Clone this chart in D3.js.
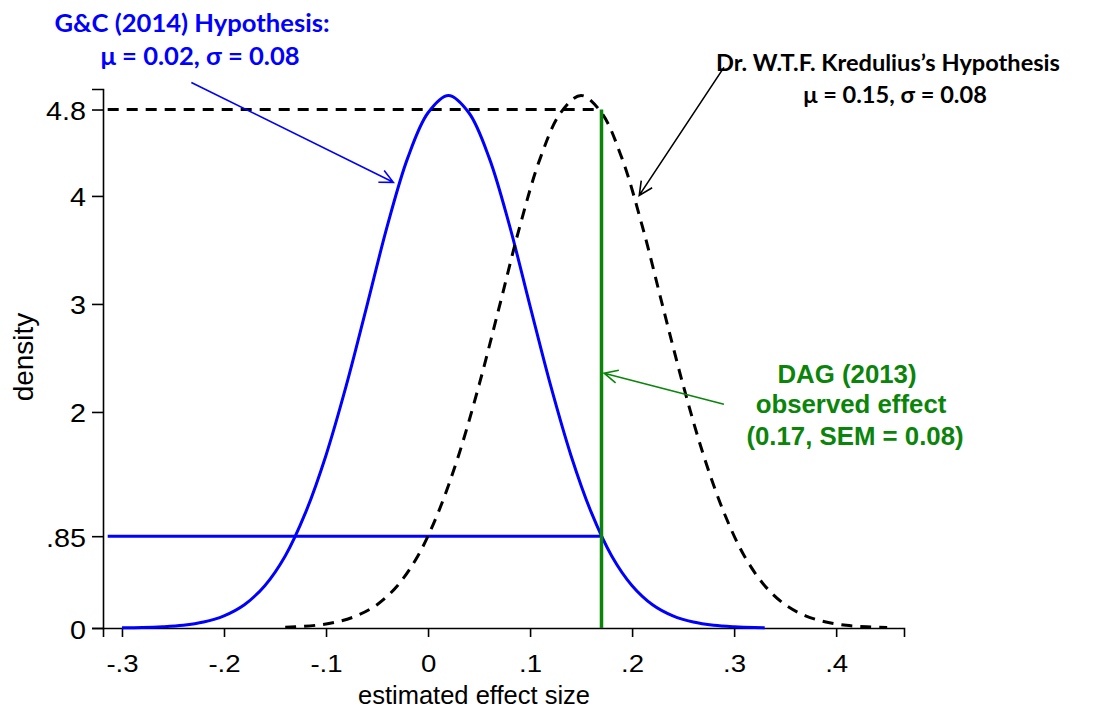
<!DOCTYPE html>
<html>
<head>
<meta charset="utf-8">
<script src="https://cdn.jsdelivr.net/npm/d3@7"></script>
<style>
  body { margin: 0; background: #fff; }
  svg { display: block; }
  .tick text { font-family: "Liberation Sans", Arial, sans-serif; fill: #000; }
</style>
</head>
<body>
<div id="chart"></div>
<script>
// density curves
const blueX = [-0.30, -0.28, -0.26, -0.24, -0.22, -0.20, -0.18, -0.16, -0.14, -0.12, -0.10,
  -0.08, -0.06, -0.04, -0.02, 0.00, 0.02, 0.04, 0.06, 0.08, 0.10, 0.12, 0.14, 0.16, 0.18,
  0.20, 0.22, 0.24, 0.26, 0.28, 0.30, 0.32, 0.33]
const blueY = [0.002, 0.004, 0.011, 0.025, 0.055, 0.113, 0.216, 0.392, 0.667, 1.07, 1.60,
  2.25, 2.98, 3.72, 4.35, 4.77, 4.93, 4.77, 4.35, 3.72, 2.98, 2.25, 1.60, 1.07, 0.667,
  0.392, 0.216, 0.113, 0.055, 0.025, 0.011, 0.004, 0.003]

const blackX = [-0.14, -0.13, -0.11, -0.09, -0.07, -0.05, -0.03, -0.01, 0.01, 0.03, 0.05,
  0.07, 0.09, 0.11, 0.13, 0.15, 0.17, 0.19, 0.21, 0.23, 0.25, 0.27, 0.29, 0.31, 0.33,
  0.35, 0.37, 0.39, 0.41, 0.43, 0.45]
const blackY = [0.007, 0.011, 0.025, 0.055, 0.113, 0.216, 0.392, 0.667, 1.07, 1.60, 2.25,
  2.98, 3.72, 4.35, 4.77, 4.93, 4.77, 4.35, 3.72, 2.98, 2.25, 1.60, 1.07, 0.667, 0.392,
  0.216, 0.113, 0.055, 0.025, 0.011, 0.004]

// reference lines
const observedEffect = 0.17
const peakLine = 4.8
const crossLine = 0.85
const lineStartX = -0.314

// ticks
const xTicks = [-0.3, -0.2, -0.1, 0, 0.1, 0.2, 0.3, 0.4]
const xTickLabels = ["-.3", "-.2", "-.1", "0", ".1", ".2", ".3", ".4"]
const yTicks = [0, 0.85, 2, 3, 4, 4.8]
const yTickLabels = ["0", ".85", "2", "3", "4", "4.8"]

const width = 1105
const height = 710

const svg = d3.select("#chart").append("svg")
  .attr("width", width)
  .attr("height", height)

const x = d3.scaleLinear().domain([-0.3186, 0.4665]).range([103, 904])
const y = d3.scaleLinear().domain([0, 4.99]).range([628, 89])

// axes
const xAxis = d3.axisBottom(x)
  .tickValues(xTicks)
  .tickFormat((d, i) => xTickLabels[i])
  .tickSizeOuter(0)
  .tickSize(9)
  .tickPadding(19)

const gx = svg.append("g")
  .attr("transform", `translate(0, ${y(0)})`)
  .call(xAxis)

// the original labels are drawn a little wider than Arial
const xStretch = 1.2
gx.selectAll(".tick text")
  .style("font-size", "23px")
  .attr("transform", `scale(${xStretch},1)`)

const yAxis = d3.axisLeft(y)
  .tickValues(yTicks)
  .tickFormat((d, i) => yTickLabels[i])
  .tickSizeOuter(0)
  .tickSize(11)
  .tickPadding(6)

const gy = svg.append("g")
  .attr("transform", `translate(${x.range()[0]}, 0)`)
  .call(yAxis)

const yStretch = 1.15
gy.selectAll(".tick text")
  .style("font-size", "25px")
  .attr("x", -17 / yStretch)
  .attr("dy", "0.4em")
  .attr("transform", `scale(${yStretch},1)`)

svg.selectAll(".domain, .tick line").attr("stroke", "#000").attr("stroke-width", 1.6)

// axis titles
svg.append("text")
  .attr("x", 474)
  .attr("y", 704)
  .attr("text-anchor", "middle")
  .style("font-family", "Liberation Sans, Arial, sans-serif")
  .style("font-size", "25.5px")
  .text("estimated effect size")

svg.append("text")
  .attr("transform", "translate(33, 357) rotate(-90)")
  .attr("text-anchor", "middle")
  .style("font-family", "Liberation Sans, Arial, sans-serif")
  .style("font-size", "28px")
  .text("density")

// reference lines
svg.append("line")
  .attr("x1", x(lineStartX)).attr("x2", x(0.167))
  .attr("y1", y(peakLine)).attr("y2", y(peakLine))
  .attr("stroke", "#000").attr("stroke-width", 3)
  .attr("stroke-dasharray", "11,8")

svg.append("line")
  .attr("x1", x(lineStartX)).attr("x2", x(observedEffect))
  .attr("y1", y(crossLine)).attr("y2", y(crossLine))
  .attr("stroke", "#0000ff").attr("stroke-width", 3)

const line = d3.line()
  .x(d => x(d[0]))
  .y(d => y(d[1]))
  .curve(d3.curveCatmullRom)

svg.append("path")
  .datum(blueX.map((v, i) => [v, blueY[i]]))
  .attr("d", line)
  .attr("fill", "none")
  .attr("stroke", "#0000ff")
  .attr("stroke-width", 3)

svg.append("path")
  .datum(blackX.map((v, i) => [v, blackY[i]]))
  .attr("d", line)
  .attr("fill", "none")
  .attr("stroke", "#000")
  .attr("stroke-width", 3)
  .attr("stroke-dasharray", "11,8")

svg.append("line")
  .attr("x1", x(observedEffect)).attr("x2", x(observedEffect))
  .attr("y1", y(0)).attr("y2", y(peakLine))
  .attr("stroke", "#0a850a").attr("stroke-width", 3.5)

// annotations
function arrow(x1, y1, x2, y2, color) {
  const px1 = x(x1), py1 = y(y1), px2 = x(x2), py2 = y(y2)
  const a = Math.atan2(py2 - py1, px2 - px1)
  const len = 15, spread = 0.45
  svg.append("path")
    .attr("d", `M${px1},${py1}L${px2},${py2}` +
      `M${px2 - len * Math.cos(a - spread)},${py2 - len * Math.sin(a - spread)}L${px2},${py2}` +
      `L${px2 - len * Math.cos(a + spread)},${py2 - len * Math.sin(a + spread)}`)
    .attr("fill", "none")
    .attr("stroke", color)
    .attr("stroke-width", 1.6)
}

arrow(-0.232, 5.05, -0.034, 4.126, "#0000ff")
arrow(0.290, 5.19, 0.207, 4.005, "#000")
arrow(0.290, 2.072, 0.1726, 2.359, "#0a850a")

function label(lines, cx, baselines, color, family, size) {
  lines.forEach((t, i) => {
    svg.append("text")
      .attr("x", cx[i])
      .attr("y", baselines[i])
      .attr("text-anchor", "middle")
      .attr("fill", color)
      .style("font-family", family)
      .style("font-weight", "bold")
      .style("font-size", size + "px")
      .text(t)
  })
}

label(["G&C (2014) Hypothesis:", "μ = 0.02, σ = 0.08"], [192, 200], [32, 65],
  "#0000ff", "Lato, sans-serif", 25.6)
label(["Dr. W.T.F. Kredulius’s Hypothesis", "μ = 0.15, σ = 0.08"], [888, 895], [71, 103],
  "#000", "Lato, sans-serif", 23.6)
label(["DAG (2013)", "observed effect", "(0.17, SEM = 0.08)"], [847, 851, 855], [383, 413, 445],
  "#0a850a", "Liberation Sans, Arial, sans-serif", 25.8)
</script>
</body>
</html>
